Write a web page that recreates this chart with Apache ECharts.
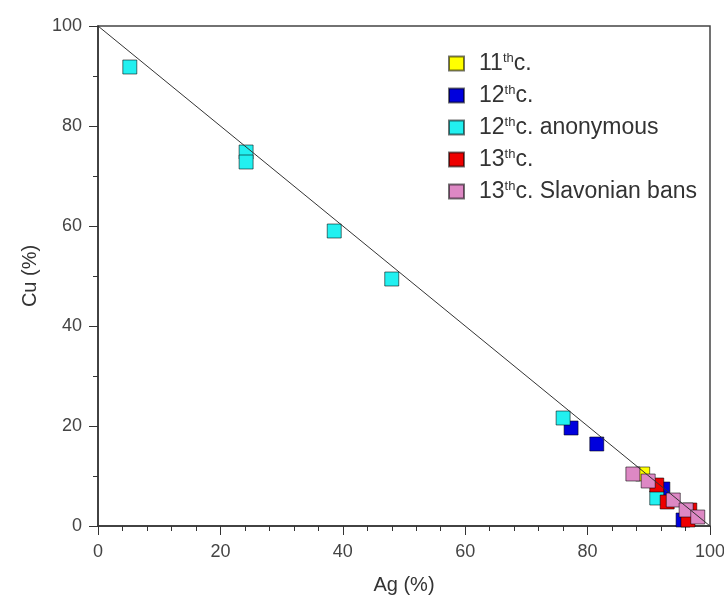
<!DOCTYPE html>
<html>
<head>
<meta charset="utf-8">
<script src="https://cdn.jsdelivr.net/npm/echarts@6/dist/echarts.min.js"></script>
<style>
html, body { margin: 0; padding: 0; background: #fff; }
#main { width: 724px; height: 596px; }
</style>
</head>
<body>
<div id="main"></div>
<script>
// Ag / Cu content of coins
var c11Ag = [89.0];
var c11Cu = [10.4];

var c12Ag = [77.3, 81.5, 92.3, 95.6];
var c12Cu = [19.6, 16.4, 7.4, 1.2];

var c12anonAg = [5.2, 24.2, 24.2, 38.6, 48.0, 76.0, 91.3];
var c12anonCu = [91.8, 74.8, 72.8, 59.0, 49.4, 21.6, 5.6];

var c13Ag = [91.3, 93.0, 96.7, 96.4];
var c13Cu = [8.2, 4.8, 3.2, 1.2];

var c13slavAg = [87.4, 89.9, 94.0, 96.1, 98.0];
var c13slavCu = [10.4, 9.0, 5.2, 3.2, 1.8];

var names = ['11thc.', '12thc.', '12thc. anonymous', '13thc.', '13thc. Slavonian bans'];
var colors = ['#ffff00', '#0000dd', '#22f0f0', '#ee0000', '#dd88c4'];
var lineAg = [0, 100];
var lineCu = [100, 0];

function pairs(a, b) {
    var out = [];
    for (var i = 0; i < a.length; i++) out.push([a[i], b[i]]);
    return out;
}

var groups = [
    pairs(c11Ag, c11Cu),
    pairs(c12Ag, c12Cu),
    pairs(c12anonAg, c12anonCu),
    pairs(c13Ag, c13Cu),
    pairs(c13slavAg, c13slavCu)
];

var myChart = echarts.init(document.getElementById('main'));

var series = groups.map(function (d, i) {
    return {
        name: names[i],
        type: 'scatter',
        symbol: 'rect',
        symbolSize: 14,
        data: d,
        itemStyle: {
            color: colors[i],
            borderColor: 'rgba(0,0,0,0.55)',
            borderWidth: 1,
            opacity: 1
        }
    };
});

series.push({
    type: 'line',
    data: pairs(lineAg, lineCu),
    symbol: 'none',
    z: 5,
    silent: true,
    lineStyle: { color: '#333', width: 1 }
});

var font = 'Liberation Sans, Arial';

var option = {
    animation: false,
    backgroundColor: '#fff',
    grid: {
        left: 98, right: 14, top: 26, bottom: 70,
        outerBoundsMode: 'none',
        containLabel: false,
        show: true, borderColor: '#444', borderWidth: 1.5
    },
    legend: {
        data: names,
        orient: 'vertical',
        left: 443,
        top: 47,
        itemWidth: 15,
        itemHeight: 14,
        itemGap: 9,
        textStyle: {
            fontFamily: font,
            fontSize: 23,
            color: '#333',
            padding: [0, 0, 0, 10],
            rich: {
                s: { fontFamily: font, fontSize: 13, verticalAlign: 'top', padding: [0, 0, 10, 0], color: '#333' }
            }
        },
        formatter: function (n) {
            return n.replace(/^(\d+)th/, '$1{s|th}');
        }
    },
    xAxis: {
        type: 'value',
        min: 0, max: 100, interval: 20,
        name: 'Ag (%)',
        nameLocation: 'middle',
        nameGap: 49,
        nameTextStyle: { fontFamily: font, fontSize: 20, color: '#333' },
        axisLine: { lineStyle: { color: '#333', width: 1.5 } },
        axisTick: { length: 9, lineStyle: { color: '#333' } },
        minorTick: { show: true, splitNumber: 5, length: 5, lineStyle: { color: '#333' } },
        axisLabel: { fontFamily: font, fontSize: 18, color: '#444', margin: 17 },
        splitLine: { show: false }
    },
    yAxis: {
        type: 'value',
        min: 0, max: 100, interval: 20,
        name: 'Cu (%)',
        nameLocation: 'middle',
        nameGap: 58,
        nameTextStyle: { fontFamily: font, fontSize: 20, color: '#333' },
        axisLine: { show: true, lineStyle: { color: '#333', width: 1.5 } },
        axisTick: { show: true, length: 9, lineStyle: { color: '#333' } },
        minorTick: { show: true, splitNumber: 2, length: 5, lineStyle: { color: '#333' } },
        axisLabel: { fontFamily: font, fontSize: 18, color: '#444', margin: 16 },
        splitLine: { show: false }
    },
    series: series
};

myChart.setOption(option);
</script>
</body>
</html>
